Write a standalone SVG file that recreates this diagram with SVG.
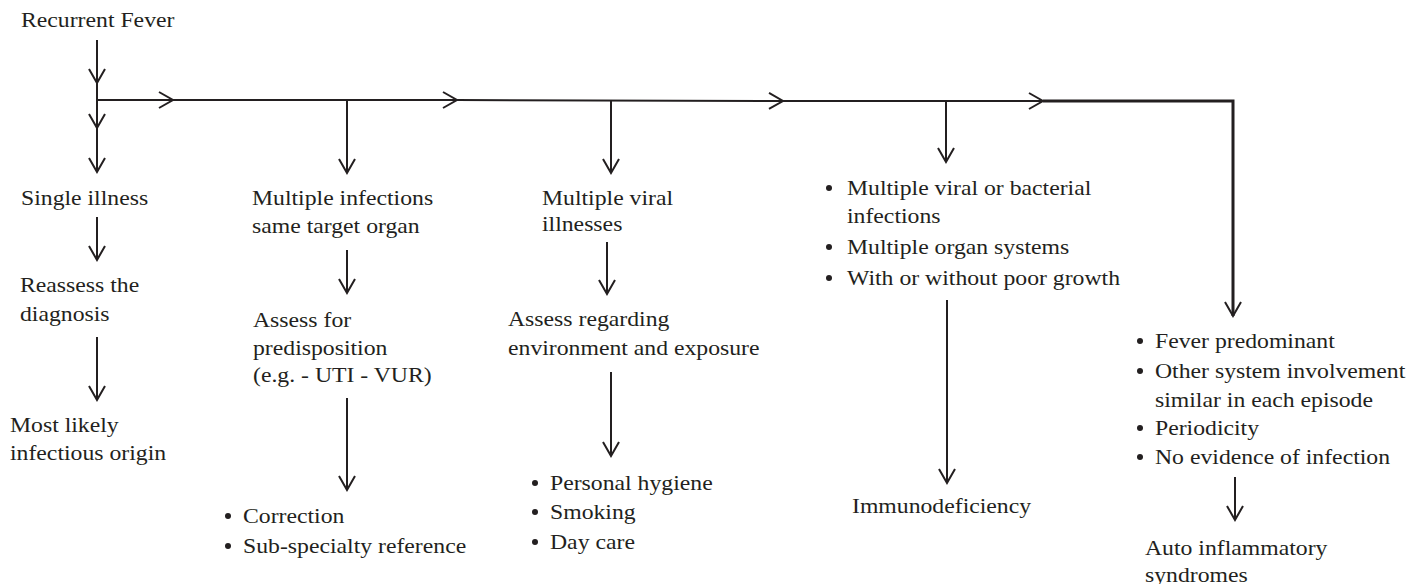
<svg xmlns="http://www.w3.org/2000/svg" width="1410" height="584" viewBox="0 0 1410 584">
<style>
.t{font-family:"Liberation Serif","Times New Roman",serif;font-size:21px;fill:#231f20}
.ln{fill:none;stroke:#231f20;stroke-width:2}
.thick{stroke-width:3}
.b{fill:#231f20}
</style>
<defs>
<marker id="ah" markerUnits="userSpaceOnUse" viewBox="-16 -10 18 20" markerWidth="18" markerHeight="20" refX="0" refY="0" orient="auto" overflow="visible">
<path d="M-14,-8 L0,0 L-14,8" fill="none" stroke="#231f20" stroke-width="2"/>
</marker>
</defs>
<rect width="1410" height="584" fill="#ffffff"/>
<g id="connectors">
<line class="ln" x1="97" y1="40" x2="97" y2="83" marker-end="url(#ah)"/>
<line class="ln" x1="97" y1="83" x2="97" y2="128" marker-end="url(#ah)"/>
<line class="ln" x1="97" y1="128" x2="97" y2="172" marker-end="url(#ah)"/>
<line class="ln" x1="96" y1="100" x2="173" y2="100" marker-end="url(#ah)"/>
<line class="ln" x1="173" y1="100" x2="457" y2="100" marker-end="url(#ah)"/>
<line class="ln" x1="457" y1="100" x2="783" y2="101" marker-end="url(#ah)"/>
<line class="ln" x1="783" y1="101" x2="1043" y2="101" marker-end="url(#ah)"/>
<polyline class="ln thick" points="1043,101 1233,101 1233,316" marker-end="url(#ah)"/>
<line class="ln" x1="347" y1="100" x2="347" y2="173" marker-end="url(#ah)"/>
<line class="ln" x1="611" y1="100" x2="611" y2="173" marker-end="url(#ah)"/>
<line class="ln" x1="946" y1="101" x2="946" y2="162" marker-end="url(#ah)"/>
<line class="ln" x1="97" y1="217" x2="97" y2="260" marker-end="url(#ah)"/>
<line class="ln" x1="97" y1="337" x2="97" y2="400" marker-end="url(#ah)"/>
<line class="ln" x1="347" y1="250" x2="347" y2="293" marker-end="url(#ah)"/>
<line class="ln" x1="347" y1="398" x2="347" y2="490" marker-end="url(#ah)"/>
<line class="ln" x1="607" y1="242" x2="607" y2="294" marker-end="url(#ah)"/>
<line class="ln" x1="611" y1="372" x2="611" y2="456" marker-end="url(#ah)"/>
<line class="ln" x1="947" y1="300" x2="947" y2="483" marker-end="url(#ah)"/>
<line class="ln" x1="1235" y1="477" x2="1235" y2="520" marker-end="url(#ah)"/>
</g>
<g id="n-recurrent"><text class="t" transform="translate(21 27) scale(1.13 1)">Recurrent Fever</text></g>
<g id="n-single"><text class="t" transform="translate(21 205) scale(1.13 1)">Single illness</text></g>
<g id="n-reassess"><text class="t" transform="translate(20 292) scale(1.13 1)"><tspan x="0" y="0">Reassess the</tspan><tspan x="0" y="29">diagnosis</tspan></text></g>
<g id="n-mostlikely"><text class="t" transform="translate(10 432) scale(1.13 1)"><tspan x="0" y="0">Most likely</tspan><tspan x="0" y="28">infectious origin</tspan></text></g>
<g id="n-multinf"><text class="t" transform="translate(252 205) scale(1.13 1)"><tspan x="0" y="0">Multiple infections</tspan><tspan x="0" y="28">same target organ</tspan></text></g>
<g id="n-assessfor"><text class="t" transform="translate(253 327) scale(1.13 1)"><tspan x="0" y="0">Assess for</tspan><tspan x="0" y="28">predisposition</tspan><tspan x="0" y="55">(e.g. - UTI - VUR)</tspan></text></g>
<g id="n-correction">
<circle class="b" cx="228" cy="516" r="3"/><circle class="b" cx="228" cy="546" r="3"/>
<text class="t" transform="translate(243 523) scale(1.13 1)"><tspan x="0" y="0">Correction</tspan><tspan x="0" y="30">Sub-specialty reference</tspan></text>
</g>
<g id="n-viral"><text class="t" transform="translate(542 205) scale(1.13 1)"><tspan x="0" y="0">Multiple viral</tspan><tspan x="0" y="26">illnesses</tspan></text></g>
<g id="n-assessenv"><text class="t" transform="translate(508 326) scale(1.13 1)"><tspan x="0" y="0">Assess regarding</tspan><tspan x="0" y="29">environment and exposure</tspan></text></g>
<g id="n-hygiene">
<circle class="b" cx="535" cy="483" r="3"/><circle class="b" cx="535" cy="512" r="3"/><circle class="b" cx="535" cy="542" r="3"/>
<text class="t" transform="translate(550 490) scale(1.13 1)"><tspan x="0" y="0">Personal hygiene</tspan><tspan x="0" y="29">Smoking</tspan><tspan x="0" y="59">Day care</tspan></text>
</g>
<g id="n-multiorgan">
<circle class="b" cx="829" cy="188" r="3"/><circle class="b" cx="829" cy="247" r="3"/><circle class="b" cx="829" cy="278" r="3"/>
<text class="t" transform="translate(847 195) scale(1.13 1)"><tspan x="0" y="0">Multiple viral or bacterial</tspan><tspan x="0" y="28">infections</tspan><tspan x="0" y="59">Multiple organ systems</tspan><tspan x="0" y="90">With or without poor growth</tspan></text>
</g>
<g id="n-immuno"><text class="t" transform="translate(852 513) scale(1.13 1)">Immunodeficiency</text></g>
<g id="n-fever">
<circle class="b" cx="1140" cy="341" r="3"/><circle class="b" cx="1140" cy="371" r="3"/><circle class="b" cx="1140" cy="428" r="3"/><circle class="b" cx="1140" cy="457" r="3"/>
<text class="t" transform="translate(1155 348) scale(1.13 1)"><tspan x="0" y="0">Fever predominant</tspan><tspan x="0" y="30">Other system involvement</tspan><tspan x="0" y="59">similar in each episode</tspan><tspan x="0" y="87">Periodicity</tspan><tspan x="0" y="116">No evidence of infection</tspan></text>
</g>
<g id="n-auto"><text class="t" transform="translate(1145 555) scale(1.13 1)"><tspan x="0" y="0">Auto inflammatory</tspan><tspan x="0" y="27">syndromes</tspan></text></g>
</svg>
